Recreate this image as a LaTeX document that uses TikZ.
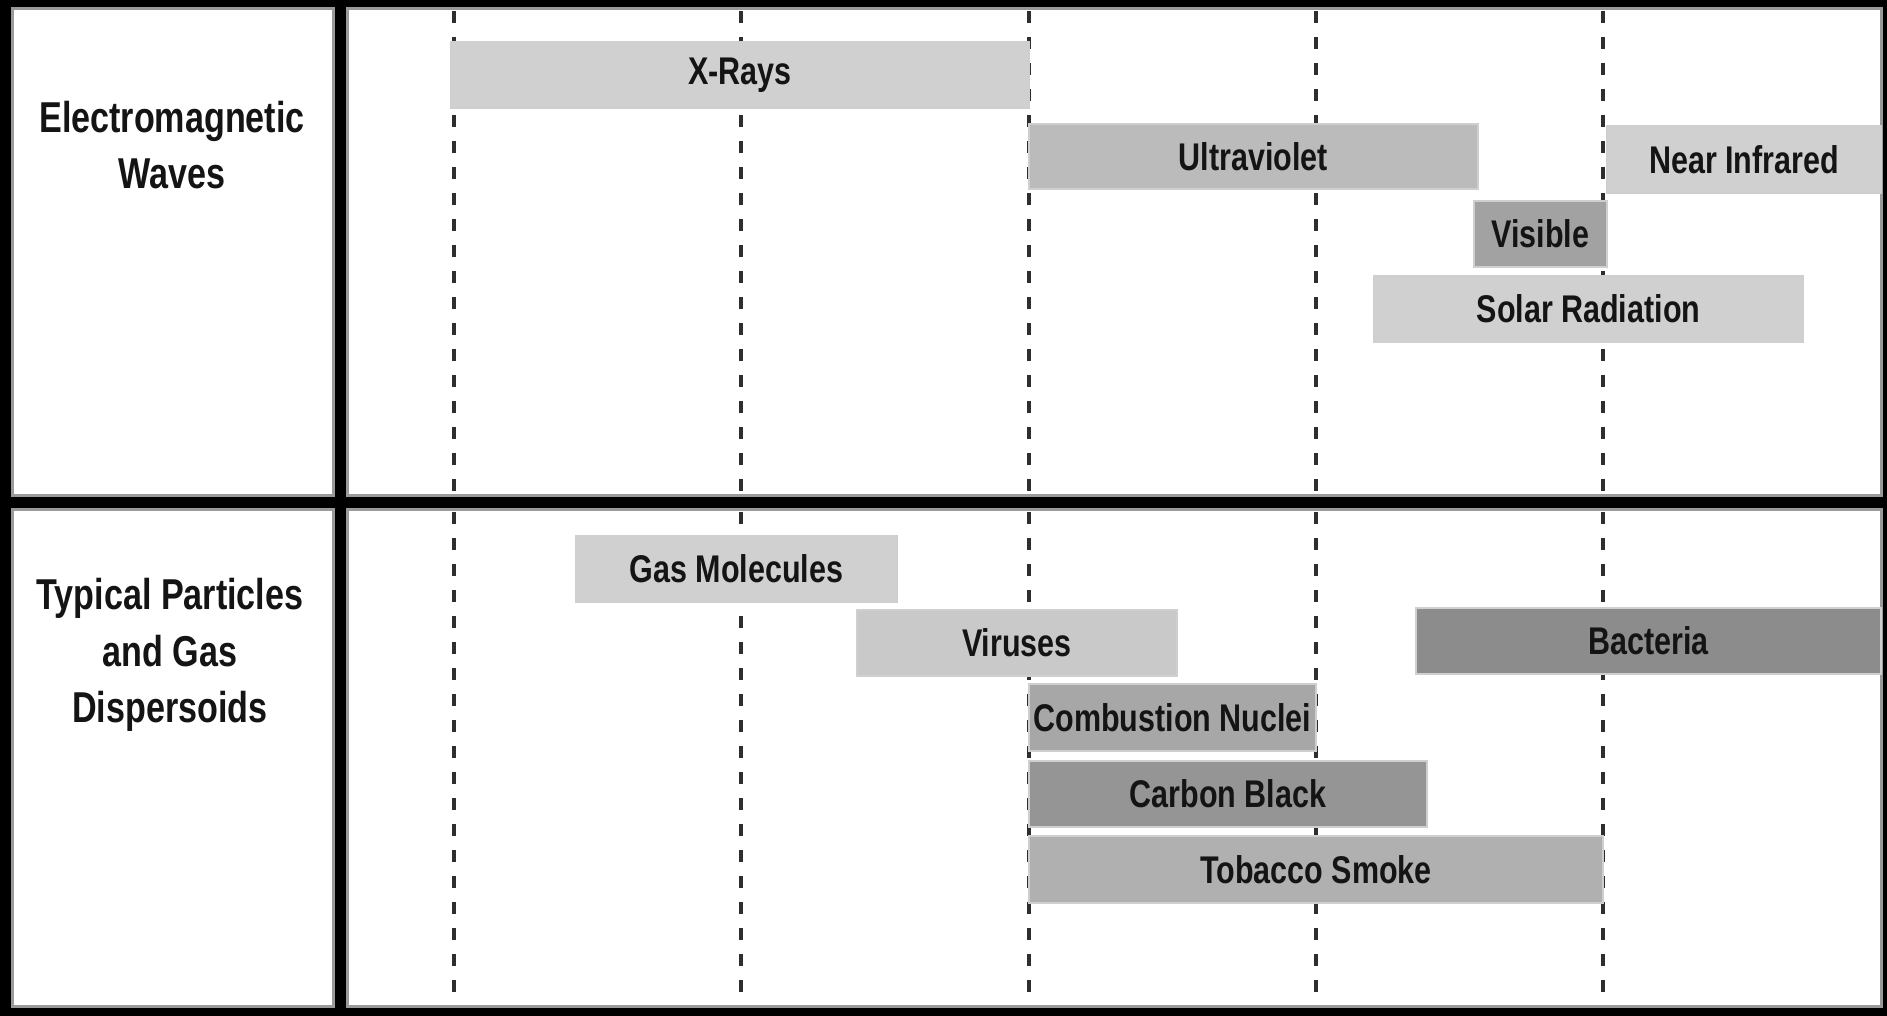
\documentclass[tikz,border=0pt]{standalone}
\usepackage{fontspec}
\setmainfont{Liberation Sans}[FakeStretch=0.79]
\definecolor{ink}{HTML}{141414}
\definecolor{cellgray}{HTML}{9A9A9A}
\definecolor{gridgray}{HTML}{2E2E2E}
\definecolor{edgegray}{HTML}{CFCFCF}
\definecolor{cA}{HTML}{D0D0D0}
\definecolor{cUV}{HTML}{BBBBBB}
\definecolor{cVis}{HTML}{A2A2A2}
\definecolor{cVir}{HTML}{C9C9C9}
\definecolor{cBac}{HTML}{8C8C8C}
\definecolor{cCom}{HTML}{A7A7A7}
\definecolor{cCar}{HTML}{959595}
\definecolor{cTob}{HTML}{B0B0B0}
\newcommand\gbar[7]{%
  \filldraw[barbox,fill=#6] (#2,#3) rectangle (#4,#5);
  \node[lbl] (#1) at ({(#2+#4)/2},{(#3+#5)/2}) {#7};}
\begin{document}
\begin{tikzpicture}[x=0.5pt,y=-0.5pt,
  cell/.style={fill=white,draw=cellgray,line width=1.5pt},
  gridline/.style={draw=gridgray,line width=2pt,dash pattern=on 6pt off 7pt},
  barbox/.style={draw=edgegray,line width=1.2pt},
  lbl/.style={font=\fontsize{19.3}{22}\selectfont\bfseries,text=ink,inner sep=0pt},
  head/.style={font=\fontsize{21.6}{28.3}\selectfont\bfseries,text=ink,align=center,inner sep=0pt}]
\useasboundingbox (0,0) rectangle (1887,1016);
\fill[black] (0,0) rectangle (1887,1016);
% cells
\filldraw[cell] (12,9) rectangle (333,496);
\filldraw[cell] (347,9) rectangle (1881,496);
\filldraw[cell] (12,510) rectangle (333,1006);
\filldraw[cell] (347,510) rectangle (1881,1006);
% grid lines
\foreach \gx in {454,741,1029,1316,1603}{
  \draw[gridline] (\gx,11) -- (\gx,495);
  \draw[gridline] (\gx,512) -- (\gx,1005);
}
% headings
\node[head] (em) at (172,145) {Electromagnetic\\Waves};
\node[head] (tp) at (170,655) {Typical Particles\\and Gas\\Dispersoids};
% bars - electromagnetic
\gbar{xray}{451}{42}{1029}{108}{cA}{X-Rays}
\gbar{uv}{1029}{124}{1478}{189}{cUV}{Ultraviolet}
\gbar{nir}{1607}{126}{1881}{193}{cA}{Near Infrared}
\gbar{vis}{1474}{201}{1607}{267}{cVis}{Visible}
\gbar{sol}{1374}{276}{1803}{342}{cA}{Solar Radiation}
% bars - particles
\gbar{gas}{576}{536}{897}{602}{cA}{Gas Molecules}
\gbar{vir}{857}{610}{1177}{676}{cVir}{Viruses}
\gbar{bac}{1416}{608}{1881}{674}{cBac}{Bacteria}
\gbar{com}{1029}{684}{1316}{751}{cCom}{Combustion Nuclei}
\gbar{car}{1029}{761}{1427}{827}{cCar}{Carbon Black}
\gbar{tob}{1029}{836}{1603}{903}{cTob}{Tobacco Smoke}
\end{tikzpicture}
\end{document}
